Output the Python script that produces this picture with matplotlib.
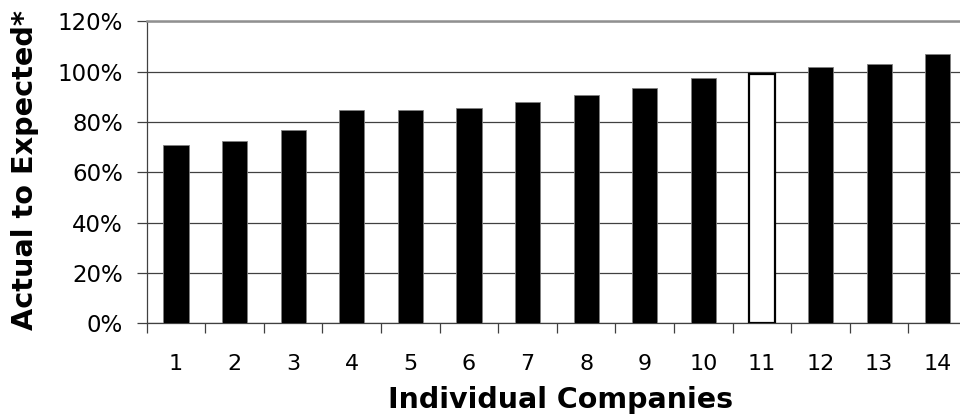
import numpy as np
import matplotlib
matplotlib.use('Agg')
import matplotlib.pyplot as plt
from matplotlib.ticker import FixedLocator, PercentFormatter

# 회사별 실제/예상 비율 (%)
companies = ['1', '2', '3', '4', '5', '6', '7', '8', '9', '10', '11', '12', '13', '14']
ratios = [70.8, 72.5, 76.8, 84.8, 84.8, 85.6, 88.1, 90.8, 93.3, 97.6, 99.2, 102.0, 103.0, 107.2]
highlight = '11'

plt.rcParams['font.family'] = ['DejaVu Sans']

fig = plt.figure(figsize=(9.6, 4.2), dpi=100)
W, H = 960, 420
left, right, top, bottom = 146.7, 967.0, 21.3, 323.3
ax = fig.add_axes([left / W, (H - bottom) / H, (right - left) / W, (bottom - top) / H])

x = np.arange(1, len(companies) + 1)
colors = ['white' if c == highlight else 'black' for c in companies]
edges = ['black' if c == highlight else '#808080' for c in companies]
lws = [1.6 if c == highlight else 0.6 for c in companies]
ax.bar(x, ratios, width=0.43, color=colors, edgecolor=edges, linewidth=lws, zorder=3)

ax.set_xlim(0.5, 14.5)
ax.set_ylim(0, 120)
ax.set_yticks(np.arange(0, 121, 20))
ax.yaxis.set_major_formatter(PercentFormatter(decimals=0))
ax.set_xticks(x)
ax.set_xticklabels(companies)
ax.xaxis.set_minor_locator(FixedLocator(np.arange(0.5, 15, 1)))

ax.grid(axis='y', color='#404040', linewidth=0.9, zorder=0)
ax.tick_params(axis='x', which='major', length=0, pad=22, labelsize=16)
ax.tick_params(axis='x', which='minor', length=7, width=0.9, color='#404040', direction='out')
ax.tick_params(axis='y', length=7, width=0.9, color='#404040', direction='out', pad=10, labelsize=16.5)

for s in ['left', 'bottom']:
    ax.spines[s].set_color('#404040')
    ax.spines[s].set_linewidth(0.9)
ax.spines['right'].set_visible(False)
ax.spines['top'].set_color('#909090')
ax.spines['top'].set_linewidth(1.8)

fig.text(25 / W, 1 - 170 / H, 'Actual to Expected*', rotation=90, ha='center', va='center',
         fontsize=20.7, fontweight='bold')
fig.text(561 / W, 1 - 400 / H, 'Individual Companies', ha='center', va='center',
         fontsize=20.5, fontweight='bold')

fig.savefig('out.png', dpi=100)
